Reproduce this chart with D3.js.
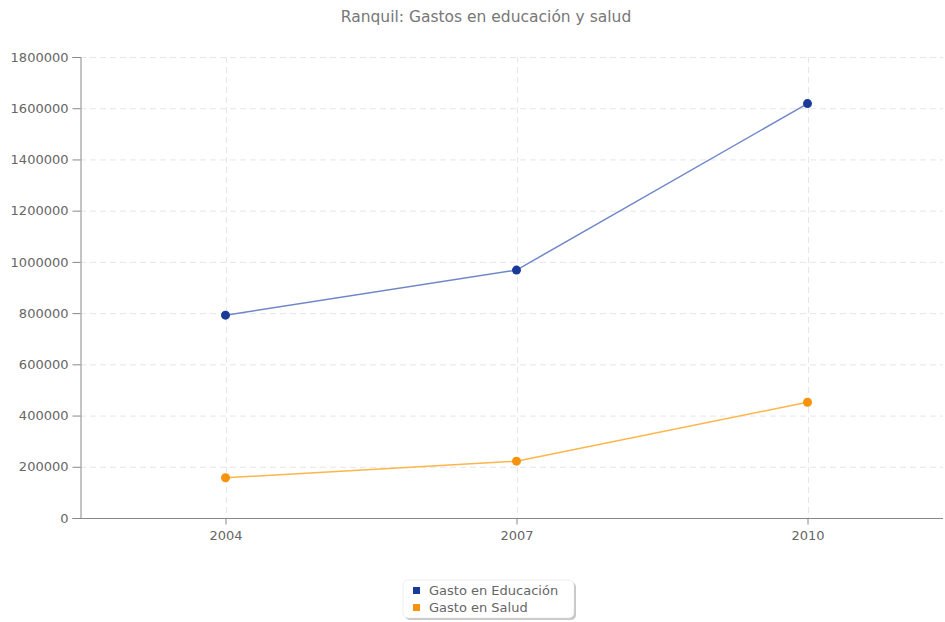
<!DOCTYPE html>
<html>
<head>
<meta charset="utf-8">
<script src="https://cdnjs.cloudflare.com/ajax/libs/d3/7.8.5/d3.min.js"></script>
<style>
  body { margin: 0; background: #fff; }
  svg { display: block; font-family: "DejaVu Sans", sans-serif; }
</style>
</head>
<body>
<svg id="chart" width="945" height="622"></svg>
<script>
const title = "Ranquil: Gastos en educación y salud";
const years = ["2004", "2007", "2010"];
const seriesNames = ["Gasto en Educación", "Gasto en Salud"];
const educacion = [792000, 968000, 1618000];
const salud = [157000, 222000, 452000];
const yTicks = [0, 200000, 400000, 600000, 800000, 1000000, 1200000, 1400000, 1600000, 1800000];
const dotColors = ["#1a3a9a", "#f7920f"];
const lineColors = ["#6f87c9", "#ffb54a"];

const svg = d3.select("#chart");
const margin = { left: 80, right: 2, top: 57, bottom: 104 };
const W = 945, H = 622;
const step = 291;
const x = d3.scalePoint().domain(years).range([margin.left + step / 2, margin.left + step / 2 + step * 2]);
const y = d3.scaleLinear().domain([0, 1800000]).range([H - margin.bottom, margin.top]);

// title
svg.append("text").attr("x", 486).attr("y", 22).attr("text-anchor", "middle")
  .attr("fill", "#777").attr("font-size", 15.5).text(title);

// gridlines
const grid = svg.append("g");
grid.selectAll("line.h").data(yTicks.filter(d => d > 0)).join("line")
  .attr("x1", margin.left).attr("x2", W - margin.right)
  .attr("y1", d => y(d) + 0.5).attr("y2", d => y(d) + 0.5)
  .attr("stroke", "#e6e6e6").attr("stroke-dasharray", "6,4");
grid.selectAll("line.v").data(years).join("line")
  .attr("x1", d => Math.round(x(d)) + 0.5).attr("x2", d => Math.round(x(d)) + 0.5)
  .attr("y1", margin.top).attr("y2", H - margin.bottom)
  .attr("stroke", "#e6e6e6").attr("stroke-dasharray", "6,4");

// axes
const yAxis = svg.append("g").attr("transform", `translate(${margin.left + 0.5},0)`)
  .call(d3.axisLeft(y).tickValues(yTicks).tickFormat(d3.format("d")).tickSizeOuter(0).tickSize(8).tickPadding(4));
const xAxis = svg.append("g").attr("transform", `translate(0,${H - margin.bottom + 0.5})`)
  .call(d3.axisBottom(x).tickSizeOuter(0).tickSize(6).tickPadding(6));
[yAxis, xAxis].forEach(a => {
  a.select(".domain").attr("stroke", "#888");
  a.selectAll(".tick line").attr("stroke", "#888");
  a.selectAll(".tick text").attr("fill", "#666").attr("font-size", 13).attr("font-family", "DejaVu Sans, sans-serif");
});
xAxis.select(".domain").attr("d", `M${margin.left},0H${W - margin.right}`);

// series
const data = [educacion, salud];
const line = d3.line().x((d, i) => x(years[i])).y(d => y(d));
data.forEach((vals, k) => {
  svg.append("path").datum(vals).attr("d", line).attr("fill", "none")
    .attr("stroke", lineColors[k]).attr("stroke-width", 1.5);
  svg.append("g").selectAll("circle").data(vals).join("circle")
    .attr("cx", (d, i) => x(years[i])).attr("cy", d => y(d)).attr("r", 4.5)
    .attr("fill", dotColors[k]);
});

// legend
const lg = svg.append("g");
lg.append("rect").attr("x", 405).attr("y", 582).attr("width", 171).attr("height", 38).attr("rx", 5)
  .attr("fill", "#c8c8c8");
lg.append("rect").attr("x", 403).attr("y", 580).attr("width", 171).attr("height", 38).attr("rx", 5)
  .attr("fill", "#fff").attr("stroke", "#ddd").attr("stroke-width", 0.5);
seriesNames.forEach((n, k) => {
  lg.append("rect").attr("x", 413).attr("y", 587 + k * 17).attr("width", 7).attr("height", 7).attr("fill", dotColors[k]);
  lg.append("text").attr("x", 429).attr("y", 595 + k * 17).attr("fill", "#666").attr("font-size", 13).text(n);
});
</script>
</body>
</html>
